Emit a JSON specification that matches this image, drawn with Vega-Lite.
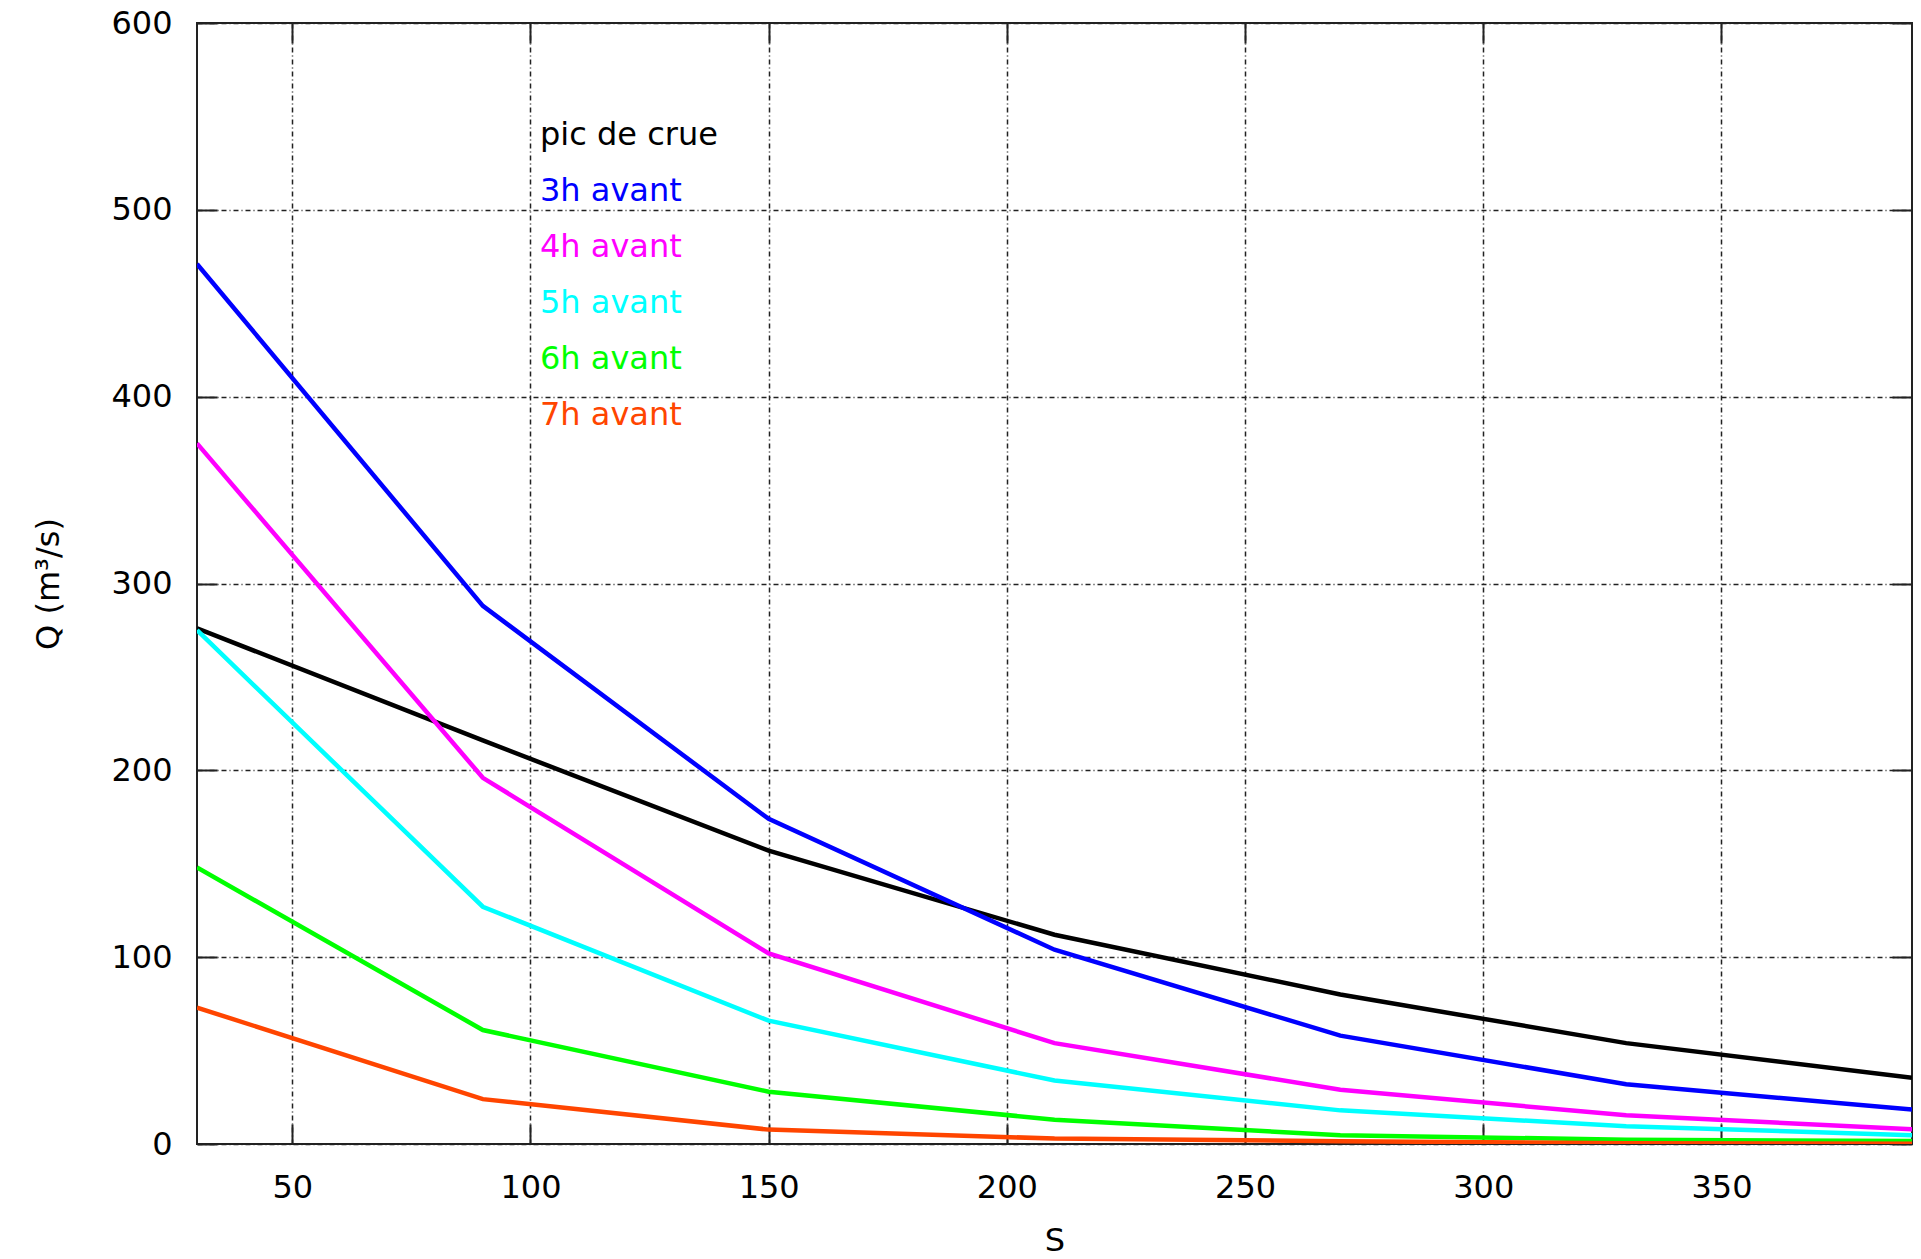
{
  "$schema": "https://vega.github.io/schema/vega-lite/v6.json",
  "width": 1715,
  "height": 1121,
  "autosize": {"type": "none"},
  "padding": {"left": 197, "top": 23, "right": 9, "bottom": 115},
  "background": "white",
  "config": {
    "font": "DejaVu Sans",
    "view": {"stroke": "#222", "strokeWidth": 2},
    "axis": {"labelFont": "DejaVu Sans", "titleFont": "DejaVu Sans", "labelColor": "black", "titleColor": "black", "titleFontWeight": "normal"}
  },
  "data": {
    "values": [
      {"S": 30, "Q": 276, "serie": "pic de crue"},
      {"S": 90, "Q": 216, "serie": "pic de crue"},
      {"S": 150, "Q": 157, "serie": "pic de crue"},
      {"S": 210, "Q": 112, "serie": "pic de crue"},
      {"S": 270, "Q": 80, "serie": "pic de crue"},
      {"S": 330, "Q": 54, "serie": "pic de crue"},
      {"S": 390, "Q": 35.5, "serie": "pic de crue"},
      {"S": 30, "Q": 471, "serie": "3h avant"},
      {"S": 90, "Q": 288, "serie": "3h avant"},
      {"S": 150, "Q": 174, "serie": "3h avant"},
      {"S": 210, "Q": 104, "serie": "3h avant"},
      {"S": 270, "Q": 58, "serie": "3h avant"},
      {"S": 330, "Q": 32, "serie": "3h avant"},
      {"S": 390, "Q": 18.4, "serie": "3h avant"},
      {"S": 30, "Q": 375, "serie": "4h avant"},
      {"S": 90, "Q": 196, "serie": "4h avant"},
      {"S": 150, "Q": 102, "serie": "4h avant"},
      {"S": 210, "Q": 54, "serie": "4h avant"},
      {"S": 270, "Q": 29, "serie": "4h avant"},
      {"S": 330, "Q": 15.4, "serie": "4h avant"},
      {"S": 390, "Q": 7.9, "serie": "4h avant"},
      {"S": 30, "Q": 275, "serie": "5h avant"},
      {"S": 90, "Q": 127, "serie": "5h avant"},
      {"S": 150, "Q": 66, "serie": "5h avant"},
      {"S": 210, "Q": 34, "serie": "5h avant"},
      {"S": 270, "Q": 18, "serie": "5h avant"},
      {"S": 330, "Q": 9.5, "serie": "5h avant"},
      {"S": 390, "Q": 4.7, "serie": "5h avant"},
      {"S": 30, "Q": 148, "serie": "6h avant"},
      {"S": 90, "Q": 61, "serie": "6h avant"},
      {"S": 150, "Q": 28, "serie": "6h avant"},
      {"S": 210, "Q": 13, "serie": "6h avant"},
      {"S": 270, "Q": 4.7, "serie": "6h avant"},
      {"S": 330, "Q": 2.3, "serie": "6h avant"},
      {"S": 390, "Q": 1.6, "serie": "6h avant"},
      {"S": 30, "Q": 73, "serie": "7h avant"},
      {"S": 90, "Q": 24, "serie": "7h avant"},
      {"S": 150, "Q": 7.7, "serie": "7h avant"},
      {"S": 210, "Q": 2.9, "serie": "7h avant"},
      {"S": 270, "Q": 1.5, "serie": "7h avant"},
      {"S": 330, "Q": 0.4, "serie": "7h avant"},
      {"S": 390, "Q": 0.1, "serie": "7h avant"}
    ]
  },
  "layer": [
    {
      "mark": {"type": "line", "strokeWidth": 4.5, "clip": true},
      "encoding": {
        "x": {
          "field": "S", "type": "quantitative",
          "scale": {"domain": [30, 390], "nice": false, "zero": false},
          "axis": {
            "orient": "bottom", "title": "S", "values": [50, 100, 150, 200, 250, 300, 350],
            "labelFontSize": 32, "titleFontSize": 32, "domain": false,
            "tickSize": -20, "tickColor": "#222", "tickWidth": 2, "labelPadding": 48, "titlePadding": 22,
            "grid": true, "gridColor": "#222", "gridWidth": 1.5, "gridDash": [5, 3, 1, 3]
          }
        },
        "y": {
          "field": "Q", "type": "quantitative",
          "scale": {"domain": [0, 600], "nice": false},
          "axis": {
            "orient": "left", "title": "Q (m³/s)", "values": [0, 100, 200, 300, 400, 500, 600],
            "labelFontSize": 32, "titleFontSize": 32, "domain": false,
            "tickSize": -20, "tickColor": "#222", "tickWidth": 2, "labelPadding": 45, "titlePadding": 45,
            "grid": true, "gridColor": "#222", "gridWidth": 1.5, "gridDash": [5, 3, 1, 3]
          }
        },
        "color": {
          "field": "serie", "type": "nominal",
          "scale": {
            "domain": ["pic de crue", "3h avant", "4h avant", "5h avant", "6h avant", "7h avant"],
            "range": ["#000000", "#0000ff", "#ff00ff", "#00ffff", "#00ff00", "#ff4500"]
          },
          "legend": {
            "title": null, "orient": "none", "legendX": 311, "legendY": 96,
            "symbolSize": 0, "symbolStrokeWidth": 0, "symbolOpacity": 0, "labelOffset": 0,
            "labelFont": "DejaVu Sans", "labelFontSize": 32, "rowPadding": 24, "padding": 0,
            "labelLimit": 400,
            "encode": {"labels": {"update": {"fill": {"scale": "color", "field": "value"}}}}
          }
        }
      }
    },
    {
      "mark": {"type": "point", "opacity": 0},
      "encoding": {
        "x": {
          "field": "S", "type": "quantitative",
          "axis": {"orient": "top", "title": null, "labels": false, "domain": false, "grid": false,
                   "values": [50, 100, 150, 200, 250, 300, 350], "tickSize": -20, "tickColor": "#222", "tickWidth": 2}
        },
        "y": {
          "field": "Q", "type": "quantitative",
          "axis": {"orient": "right", "title": null, "labels": false, "domain": false, "grid": false,
                   "values": [0, 100, 200, 300, 400, 500, 600], "tickSize": -20, "tickColor": "#222", "tickWidth": 2}
        }
      }
    }
  ],
  "resolve": {"axis": {"x": "independent", "y": "independent"}}
}
